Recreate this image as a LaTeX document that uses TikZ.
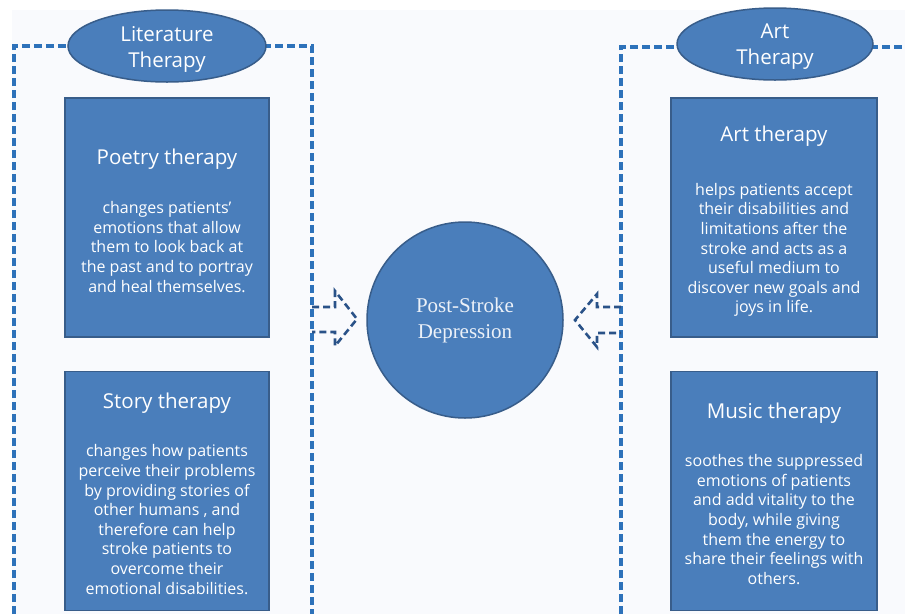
\documentclass[tikz,border=0pt]{standalone}
\usepackage{fontspec}
\setmainfont{Open Sans}
\newfontfamily\serifface{Liberation Serif}
\usetikzlibrary{shapes.geometric,backgrounds}
\definecolor{boxfill}{RGB}{74,126,187}
\definecolor{boxedge}{RGB}{56,93,138}
\definecolor{frameblue}{RGB}{46,114,186}
\definecolor{arrowblue}{RGB}{42,82,136}
\definecolor{paper}{RGB}{249,250,253}
\definecolor{softwhite}{RGB}{236,241,248}
\tikzset{
  frameline/.style={draw=frameblue, line width=3.1pt, dash pattern=on 8pt off 4pt},
  blockarrow/.style={draw=arrowblue, line width=2.6pt, dash pattern=on 7pt off 4pt, line join=miter},
  therapybox/.style={draw=boxedge, line width=1.8pt, fill=boxfill, minimum width=204pt, minimum height=239pt, inner sep=0pt},
  groupoval/.style={ellipse, draw=boxedge, line width=1.5pt, fill=boxfill, inner sep=0pt},
  boxtitle/.style={text=white, font=\fontsize{20.5}{24}\selectfont, align=center},
  boxbody/.style={text=white, font=\fontsize{16}{19.6}\selectfont, align=center},
  ovaltext/.style={text=white, font=\fontsize{20.5}{26}\selectfont, align=center},
}
\begin{document}
\begin{tikzpicture}[x=1pt, y=-1pt]
  \useasboundingbox (0,0) rectangle (905,614);

  % group headers
  \node[groupoval, minimum width=198pt, minimum height=72pt] (lit) at (167,46) {};
  \node[ovaltext] at (167,49) {Literature\\Therapy};
  \node[groupoval, minimum width=196pt, minimum height=72pt] (art) at (775,44) {};
  \node[ovaltext] at (775,47) {Art\\Therapy};

  % page, background and dashed group frames behind the headers
  \begin{scope}[on background layer]
    \fill[white] (0,0) rectangle (905,614);
    \fill[paper] (12,10) rectangle (905,614);
    \coordinate (litTL) at (14,46);
    \coordinate (litTR) at (312,46);
    \coordinate (litBL) at (14,614);
    \coordinate (litBR) at (312,614);
    \draw[frameline] (litBL) -- (litTL) -- (lit.center |- litTL);
    \draw[frameline] (lit.center |- litTR) -- (litTR) -- (litBR);
    \coordinate (artTL) at (621,47);
    \coordinate (artBL) at (621,614);
    \coordinate (artTR) at (905,47);
    \draw[frameline] (artBL) -- (artTL) -- (art.center |- artTL) -- (artTR);
  \end{scope}

  % central topic
  \node[circle, draw=boxedge, line width=1.5pt, fill=boxfill, minimum size=196pt, inner sep=0pt] (psd) at (465,320) {};
  \node[text=softwhite, font=\serifface\fontsize{21}{26}\selectfont, align=center] at (psd.center) {Post-Stroke\\Depression};

  % therapy boxes
  \node[therapybox] (poetry) at (167,217.5) {};
  \node[therapybox] (story) at (167,491) {};
  \node[therapybox, minimum width=206pt] (arttx) at (774,217.5) {};
  \node[therapybox, minimum width=206pt] (music) at (774,491) {};

  \node[boxtitle] at (167,159) {Poetry therapy};
  \node[boxbody] at (167,247) {changes patients'\\emotions that allow\\them to look back at\\the past and to portray\\and heal themselves.};

  \node[boxtitle] at (167,403) {Story therapy};
  \node[boxbody] at (167,519.5) {changes how patients\\perceive their problems\\by providing stories of\\other humans , and\\therefore can help\\stroke patients to\\overcome their\\emotional disabilities.};

  \node[boxtitle] at (774,136) {Art therapy};
  \node[boxbody] at (774,250) {helps patients accept\\their disabilities and\\limitations after the\\stroke and acts as a\\useful medium to\\discover new goals and\\joys in life.};

  \node[boxtitle] at (774,413) {Music therapy};
  \node[boxbody] at (774,519.5) {soothes the suppressed\\emotions of patients\\and add vitality to the\\body, while giving\\them the energy to\\share their feelings with\\others.};

  % hollow dashed block arrows pointing at the centre
  \coordinate (la1) at (312,307);
  \coordinate (la2) at (312,332);
  \draw[blockarrow] (la1) -- (335,307) -- (335,291) -- (357,319) -- (335,346) -- (335,332) -- (la2);
  \coordinate (ra1) at (621,307);
  \coordinate (ra2) at (621,333);
  \draw[blockarrow] (ra1) -- (597,307) -- (597,294) -- (575,320) -- (597,347) -- (597,333) -- (ra2);
\end{tikzpicture}
\end{document}
